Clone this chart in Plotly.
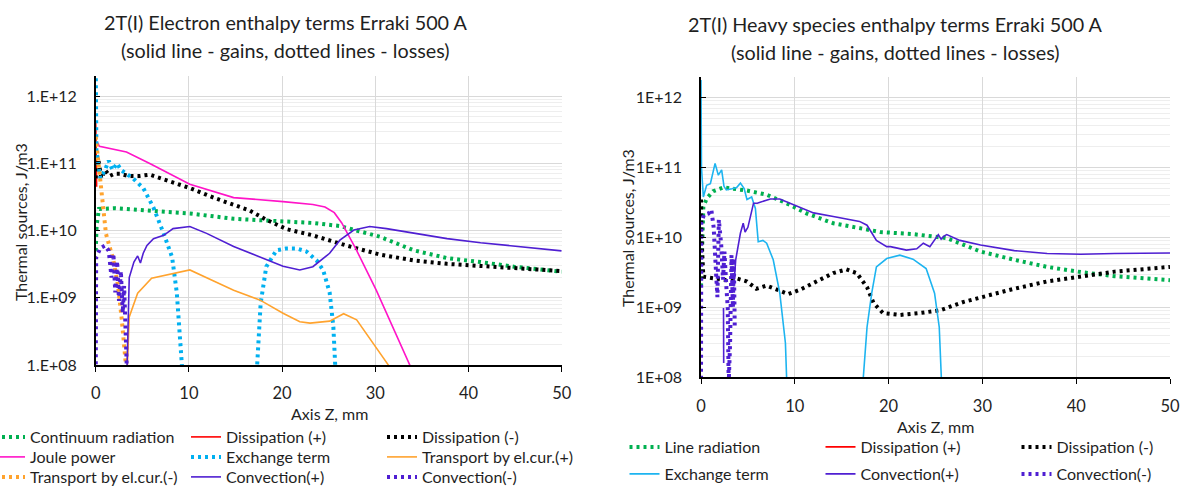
import plotly.graph_objects as go

W, H = 1181, 488
FONT = "Lato"
TXT = "#1f1f1f"

# ---------------- Left chart: electron enthalpy terms ----------------
z_cont = [0, 0.1, 0.35, 2.1, 7.5, 10.1, 14.8, 20.0, 23.3, 26.2, 28.7, 30.5, 34.1, 37.7, 41.3, 44.9, 50]
cont = [5e9, 1.2e10, 2.1e10, 2.15e10, 1.9e10, 1.8e10, 1.5e10, 1.35e10, 1.3e10, 1.17e10, 9.5e9, 8.1e9,
        5.1e9, 3.9e9, 3.4e9, 2.9e9, 2.45e9]

z_dissp_L = [0, 0.03, 0.06, 0.1]
dissp_L = [4e11, 2e11, 8e10, 4.5e10]

z_dissm_L = [0, 0.15, 0.3, 0.6, 1.0, 1.5, 2.0, 2.6, 3.5, 4.7, 5.8, 7.5, 10.1, 12.9, 16.5, 18.3, 20.5,
             23.3, 26.9, 30.5, 34.1, 37.7, 41.3, 44.9, 50]
dissm_L = [6e10, 1.3e11, 1.1e11, 6e10, 8e10, 6.5e10, 7e10, 7e10, 6.5e10, 6.5e10, 6.8e10, 5.6e10, 4.3e10,
           3.0e10, 2.0e10, 1.45e10, 1.05e10, 8.5e9, 6.0e9, 4.4e9, 3.6e9, 3.2e9, 2.95e9, 2.8e9, 2.5e9]

z_joule = [0.15, 0.4, 3.3, 5.8, 10.1, 14.8, 20.1, 23.3, 24.6, 25.6, 26.4, 27.9, 30.1, 31.9, 33.7, 34.2]
joule = [2.1e11, 1.8e11, 1.48e11, 1.0e11, 4.9e10, 3.1e10, 2.7e10, 2.45e10, 2.25e10, 1.85e10, 1.3e10,
         5.4e9, 1.3e9, 3.7e8, 1.0e8, 7e7]

z_exch_L = [0, 0.08, 0.5, 1.0, 1.4, 1.8, 2.3, 2.7, 3.3, 4.0, 5.1, 6.2, 7.3, 8.2, 8.7, 9.25, 9.4, None,
            17.2, 17.3, 17.7, 18.3, 19.4, 20.4, 21.6, 22.6, 23.7, 24.4, 25.1, 25.5, 25.7, 25.8]
exch_L = [3e12, 1.5e11, 6e10, 8e10, 1.1e11, 8e10, 1.0e11, 8e10, 7e10, 6e10, 4.3e10, 2.2e10, 9e9, 4e9,
          1.2e9, 1e8, 5e7, None, 5e7, 1e8, 8.3e8, 2.9e9, 5.1e9, 5.4e9, 5.4e9, 4.9e9, 3.6e9, 2.6e9,
          1.2e9, 3.7e8, 1e8, 5e7]

z_trp = [3.35, 3.4, 3.6, 4.5, 6.0, 7.6, 10.1, 12.6, 14.8, 17.6, 20.1, 21.9, 23.0, 25.1, 26.6, 28.0,
         29.8, 31.4, 31.6]
trp = [8e7, 1e8, 5.2e8, 1.17e9, 1.95e9, 2.2e9, 2.6e9, 1.8e9, 1.3e9, 9.3e8, 5.9e8, 4.4e8, 4.2e8, 4.5e8,
       5.8e8, 4.7e8, 2.1e8, 1.0e8, 8e7]

z_trm = [0, 0.15, 0.6, 0.8, 1.1, 1.9, 2.4, 2.8, 3.2, 3.3]
trm = [2.5e11, 1.6e11, 4.5e10, 1.8e10, 9e9, 3.6e9, 1.5e9, 4.7e8, 1.2e8, 8e7]

z_convp_L = [3.35, 3.45, 3.6, 4.1, 4.5, 4.8, 5.1, 5.5, 6.0, 6.2, 7.3, 8.3, 10.1, 11.9, 14.8, 17.6,
             20.1, 21.9, 23.3, 25.1, 26.2, 27.7, 29.4, 31.2, 34.1, 37.7, 41.3, 44.9, 50]
convp_L = [8e7, 3e8, 2e9, 3.4e9, 4.2e9, 3.3e9, 4.6e9, 6e9, 7.2e9, 7.6e9, 8.5e9, 1.07e10, 1.15e10,
           9.1e9, 5.8e9, 4.1e9, 2.95e9, 2.6e9, 2.9e9, 4.6e9, 7.2e9, 1.02e10, 1.15e10, 1.07e10, 9.1e9,
           7.6e9, 6.6e9, 5.9e9, 5.0e9]

z_convm_L = [0, 0.05, 0.5, 1.0, 1.4, 1.7, 1.9, 2.1, 2.3, 2.5, 2.7, 2.9, 3.05, 3.2, 3.35]
convm_L = [5e7, 4e9, 5.5e9, 6e9, 5e9, 2e9, 4.5e9, 1.2e9, 3.5e9, 9e8, 2.5e9, 6e8, 1.5e9, 3e8, 8e7]

# ---------------- Right chart: heavy species enthalpy terms ----------------
z_line = [0, 0.25, 0.6, 1.3, 2.4, 3.4, 4.9, 7.0, 9.1, 11.3, 14.1, 17.7, 19.1, 21.2, 22.6, 26.2, 29.8,
          33.4, 36.9, 40.5, 44.1, 50]
line_rad = [2e9, 2.75e10, 3.6e10, 4.6e10, 5.2e10, 5.0e10, 4.7e10, 4.1e10, 3.1e10, 2.2e10, 1.6e10,
            1.3e10, 1.2e10, 1.15e10, 1.12e10, 9.8e9, 6.3e9, 4.8e9, 3.8e9, 3.2e9, 2.8e9, 2.45e9]

z_dissp_R = [None]
dissp_R = [None]

z_dissm_R = [0, 0.05, 0.25, 1.3, 2.7, 3.8, 4.9, 5.9, 7.0, 8.1, 9.3, 10.6, 12.3, 14.1, 15.5, 16.6, 17.7,
             18.4, 19.4, 21.2, 23.3, 25.5, 28.0, 29.8, 33.4, 36.9, 40.5, 44.1, 50]
dissm_R = [3.5e10, 1e10, 2.75e9, 2.6e9, 2.45e9, 2.6e9, 2.35e9, 1.85e9, 2.05e9, 1.8e9, 1.55e9, 1.8e9,
           2.35e9, 3.1e9, 3.5e9, 3.1e9, 1.95e9, 1.15e9, 8.3e8, 7.8e8, 8.3e8, 9.1e8, 1.2e9, 1.4e9,
           1.85e9, 2.35e9, 2.75e9, 3.25e9, 3.8e9]

z_exch_R = [0, 0.05, 0.25, 0.6, 1.0, 1.5, 1.85, 2.2, 2.45, 2.7, 3.3, 3.8, 4.2, 4.6, 4.9, 5.4, 5.8, 6.1,
            6.6, 7.0, 7.7, 8.4, 9.0, 9.15, None, 17.25, 17.7, 18.2, 18.7, 19.8, 21.2, 22.6, 24.0, 24.9,
            25.4, 25.65]
exch_R = [1.8e12, 1e11, 3.8e10, 5.6e10, 5.9e10, 1.15e11, 7.8e10, 9.3e10, 5.4e10, 4.8e10, 5.0e10, 5.2e10,
          6.0e10, 5.0e10, 3.5e10, 3.8e10, 2.6e10, 8.7e9, 9.1e9, 8.3e9, 4.8e9, 1.6e9, 3.1e8, 8e7, None,
          8e7, 5.2e8, 1.6e9, 3.8e9, 5.0e9, 5.6e9, 4.9e9, 3.6e9, 1.6e9, 5.2e8, 8e7]

z_convp_R = [2.4, 2.42, None, 3.5, 3.7, 4.2, 4.5, 4.7, 5.0, 5.6, 6.0, 6.3, 7.4, 8.4, 9.8, 12.0, 14.1,
             16.9, 17.7, 18.7, 19.8, 20.2, 21.9, 23.0, 23.7, 24.4, 25.3, 25.6, 25.9, 26.2, 27.6, 29.8,
             33.4, 36.9, 40.5, 44.1, 50]
convp_R = [9.8e8, 1.6e8, None, 2e9, 4.8e9, 1.15e10, 1.6e10, 1.2e10, 1.4e10, 3.1e10, 3.1e10, 3.2e10,
           3.55e10, 3.55e10, 2.95e10, 2.25e10, 2.0e10, 1.7e10, 1.5e10, 9.1e9, 7.4e9, 7.4e9, 6.6e9,
           6.9e9, 8.3e9, 7.4e9, 1.1e10, 9.5e9, 1.05e10, 1.1e10, 9.1e9, 7.8e9, 6.5e9, 5.9e9, 5.75e9,
           5.9e9, 6.0e9]

z_convm_R = [0, 0.03, 0.3, 0.8, 1.1, 1.35, 1.6, 1.75, 1.9, 2.15, 2.35, 2.5, 2.7, 2.85, 2.95, 3.1, 3.25,
             3.4, 3.5, 3.6]
convm_R = [6e7, 1.6e10, 2.1e10, 2.2e10, 2.5e10, 1.4e10, 3.2e9, 1.4e9, 1.8e10, 8e9, 2.5e9, 6.3e9, 2e9,
           1e9, 8e7, 3e8, 5.6e9, 1e9, 5e9, 5e8]

# tick labels
y_ticks = [1e8, 1e9, 1e10, 1e11, 1e12]
y_text_L = ["1.E+08", "1.E+09", "1.E+10", "1.E+11", "1.E+12"]
y_text_R = ["1E+08", "1E+09", "1E+10", "1E+11", "1E+12"]

GREEN = "#00B050"
RED = "#FF0000"
BLACK = "#000000"
MAGENTA = "#FF14C8"
CYAN = "#00B0F0"
ORANGE = "#FFA32E"
PURPLE = "#4F1FD2"
CYAN_SOLID = "#1DB4F0"

fig = go.Figure()


def add(x, y, name, color, dotted, xa, ya, leg):
    fig.add_trace(go.Scatter(
        x=x, y=y, name=name, mode="lines", xaxis=xa, yaxis=ya, legend=leg,
        connectgaps=False, hoverinfo="skip",
        line=dict(color=color, width=4 if dotted else 1.6, dash="3px,4px" if dotted else "solid"),
    ))


# left (rows of legend: legend, legend2, legend3)
add(z_cont, cont, "Continuum radiation", GREEN, True, "x", "y", "legend")
add(z_dissp_L, dissp_L, "Dissipation (+)", RED, False, "x", "y", "legend")
add(z_dissm_L, dissm_L, "Dissipation (-)", BLACK, True, "x", "y", "legend")
add(z_joule, joule, "Joule power", MAGENTA, False, "x", "y", "legend2")
add(z_exch_L, exch_L, "Exchange term", CYAN, True, "x", "y", "legend2")
add(z_trp, trp, "Transport by el.cur.(+)", ORANGE, False, "x", "y", "legend2")
add(z_trm, trm, "Transport by el.cur.(-)", ORANGE, True, "x", "y", "legend3")
add(z_convp_L, convp_L, "Convection(+)", PURPLE, False, "x", "y", "legend3")
add(z_convm_L, convm_L, "Convection(-)", PURPLE, True, "x", "y", "legend3")

# right (legend4, legend5)
add(z_line, line_rad, "Line radiation", GREEN, True, "x2", "y2", "legend4")
add(z_dissp_R, dissp_R, "Dissipation (+)", RED, False, "x2", "y2", "legend4")
add(z_dissm_R, dissm_R, "Dissipation (-)", BLACK, True, "x2", "y2", "legend4")
add(z_exch_R, exch_R, "Exchange term", CYAN_SOLID, False, "x2", "y2", "legend5")
add(z_convp_R, convp_R, "Convection(+)", PURPLE, False, "x2", "y2", "legend5")
add(z_convm_R, convm_R, "Convection(-)", PURPLE, True, "x2", "y2", "legend5")


def px_x(p):
    return p / W


def px_y(p):
    return 1 - p / H


def xaxis(domain, anchor, standoff):
    return dict(
        domain=domain, anchor=anchor, range=[0, 50], dtick=10, tick0=0,
        showline=True, linecolor="black", linewidth=1.5,
        ticks="outside", ticklen=5, tickcolor="black", tickwidth=1.2,
        showgrid=True, gridcolor="#d9d9d9", gridwidth=1.3, zeroline=False,
        tickfont=dict(family=FONT, size=16.5, color=TXT), ticklabelstandoff=standoff,
        fixedrange=True,
    )


def yaxis(domain, anchor, labels):
    return dict(
        domain=domain, anchor=anchor, type="log", range=[8, 12.301],
        tickmode="array", tickvals=y_ticks, ticktext=labels,
        showline=True, linecolor="black", linewidth=1.5,
        ticks="inside", ticklen=5, tickcolor="black", tickwidth=1.2,
        showgrid=True, gridcolor="#d9d9d9", gridwidth=1.3, zeroline=False,
        minor=dict(showgrid=True, gridcolor="#eeeeee", gridwidth=1, dtick="D1", ticks=""),
        tickfont=dict(family=FONT, size=16, color=TXT), ticklabelstandoff=14,
        fixedrange=True,
    )


def legend(xp, yp):
    return dict(
        orientation="h", x=px_x(xp), xanchor="left", y=px_y(yp), yanchor="middle",
        entrywidth=151, entrywidthmode="pixels", itemwidth=30,
        font=dict(family=FONT, size=16, color=TXT), bgcolor="rgba(0,0,0,0)",
        borderwidth=0, tracegroupgap=0, traceorder="normal",
    )


annotations = [
    dict(text="2T(I) Electron enthalpy terms Erraki 500 A", x=px_x(285), y=px_y(22)),
    dict(text="(solid line - gains, dotted lines - losses)", x=px_x(285), y=px_y(50)),
    dict(text="2T(I) Heavy species enthalpy terms Erraki 500 A", x=px_x(895), y=px_y(24)),
    dict(text="(solid line - gains, dotted lines - losses)", x=px_x(895), y=px_y(52)),
]
for a in annotations:
    a.update(xref="paper", yref="paper", showarrow=False, xanchor="center", yanchor="middle",
             font=dict(family=FONT, size=19.8, color=TXT))

for txt, xp, yp, ang in [
    ("Axis Z, mm", 329, 413, 0),
    ("Axis Z, mm", 935, 426, 0),
    ("Thermal sources, J/m3", 20, 222, -90),
    ("Thermal sources, J/m3", 628, 228, -90),
]:
    annotations.append(dict(text=txt, x=px_x(xp), y=px_y(yp), xref="paper", yref="paper",
                            showarrow=False, xanchor="center", yanchor="middle", textangle=ang,
                            font=dict(family=FONT, size=16, color=TXT)))

fig.update_layout(
    width=W, height=H,
    margin=dict(l=0, r=0, t=0, b=0, autoexpand=False),
    paper_bgcolor="white", plot_bgcolor="white",
    font=dict(family=FONT, size=16, color=TXT),
    showlegend=True,
    xaxis=xaxis([px_x(95.7), px_x(561.7)], "y", 7),
    yaxis=yaxis([px_y(365), px_y(76)], "x", y_text_L),
    xaxis2=xaxis([px_x(701), px_x(1170)], "y2", 8),
    yaxis2=yaxis([px_y(377.3), px_y(76.7)], "x2", y_text_R),
    legend=legend(-10, 437),
    legend2=legend(-10, 457),
    legend3=legend(-10, 477),
    legend4=legend(624.5, 447),
    legend5=legend(624.5, 474),
    annotations=annotations,
)

fig.write_html("out.html")
